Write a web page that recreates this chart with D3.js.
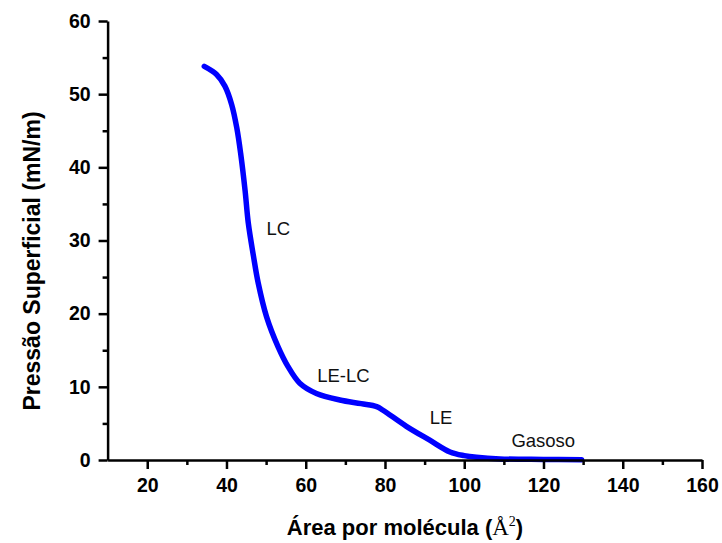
<!DOCTYPE html>
<html>
<head>
<meta charset="utf-8">
<script src="https://cdn.jsdelivr.net/npm/d3@7"></script>
<style>
  body { margin: 0; background: #fff; }
  svg text { font-family: Arial, "Liberation Sans", sans-serif; }
</style>
</head>
<body>
<svg id="chart" width="722" height="543"></svg>
<script>
// isotherm points
const area = [34.4, 37.5, 39.6, 41.3, 42.6, 43.6, 44.7, 45.5, 46.8, 48.0, 50.1, 53.0, 55.5, 58.5, 62.7, 68.6, 74.0, 77.9, 79.5, 85.4, 91.3, 96.4, 100.0, 103.1, 109.0, 120.0, 129.6]
const pressure = [53.8, 52.7, 51.1, 48.6, 45.4, 41.8, 36.8, 32.4, 27.9, 24.2, 19.6, 15.5, 12.8, 10.5, 9.1, 8.2, 7.7, 7.3, 6.8, 4.6, 2.7, 1.1, 0.6, 0.37, 0.15, 0.08, 0.05]

const xTicks = [20, 40, 60, 80, 100, 120, 140, 160]
const xMinor = [30, 50, 70, 90, 110, 130, 150]
const yTicks = [0, 10, 20, 30, 40, 50, 60]
const yMinor = [5, 15, 25, 35, 45, 55]

const phaseLabels = ['LC', 'LE-LC', 'LE', 'Gasoso']
const phaseX = [50.1, 62.9, 91.3, 111.9]
const phaseY = [30.8, 10.7, 4.9, 1.8]

const marginLeft = 107.6, marginRight = 20, marginTop = 21, marginBottom = 83
const width = 722, height = 543

const svg = d3.select('#chart')

const xScale = d3.scaleLinear([10, 160], [marginLeft, width - marginRight])
const yScale = d3.scaleLinear([0, 60], [height - marginBottom, marginTop])

const data = area.map((a, i) => ({x: a, y: pressure[i]}))

// curve
const line = d3.line()
  .x(d => xScale(d.x))
  .y(d => yScale(d.y))
  .curve(d3.curveCatmullRom.alpha(0.5))

svg.append('path')
  .attr('d', line(data))
  .attr('fill', 'none')
  .attr('stroke', '#0000ff')
  .attr('stroke-width', 5.5)
  .attr('stroke-linecap', 'round')
  .attr('stroke-linejoin', 'round')

// x axis
svg.append('g')
  .attr('transform', `translate(0, ${height - marginBottom})`)
  .call(d3.axisBottom(xScale).tickValues(xTicks).tickSize(9).tickPadding(9).tickSizeOuter(0))
svg.append('g')
  .attr('transform', `translate(0, ${height - marginBottom})`)
  .call(d3.axisBottom(xScale).tickValues(xMinor).tickSize(5).tickFormat('').tickSizeOuter(0))
  .select('.domain').remove()

// y axis
svg.append('g')
  .attr('transform', `translate(${marginLeft}, 0)`)
  .call(d3.axisLeft(yScale).tickValues(yTicks).tickSize(9).tickPadding(8).tickSizeOuter(0))
svg.append('g')
  .attr('transform', `translate(${marginLeft}, 0)`)
  .call(d3.axisLeft(yScale).tickValues(yMinor).tickSize(5).tickFormat('').tickSizeOuter(0))
  .select('.domain').remove()

svg.selectAll('.domain, .tick line')
  .attr('stroke', '#000')
  .attr('stroke-width', 2.5)

svg.selectAll('.tick text')
  .attr('font-family', 'Arial, "Liberation Sans", sans-serif')
  .attr('font-size', 19.5)
  .attr('font-weight', 'bold')
  .attr('fill', '#000')

// phase labels
svg.append('g')
  .selectAll('text')
  .data(phaseLabels)
  .join('text')
  .attr('x', (d, i) => xScale(phaseX[i]))
  .attr('y', (d, i) => yScale(phaseY[i]))
  .attr('font-size', 18.5)
  .attr('fill', '#111')
  .text(d => d)

// axis titles
const xTitle = svg.append('text')
  .attr('x', 405)
  .attr('y', 535)
  .attr('text-anchor', 'middle')
  .attr('font-size', 22)
  .attr('font-weight', 'bold')
xTitle.append('tspan').text('Área por molécula (')
xTitle.append('tspan')
  .attr('font-family', '"Liberation Serif", "DejaVu Serif", serif')
  .attr('font-weight', 'normal')
  .attr('font-size', 23)
  .text('Å')
xTitle.append('tspan')
  .attr('font-family', '"Liberation Serif", "DejaVu Serif", serif')
  .attr('font-weight', 'normal')
  .attr('font-size', 14)
  .attr('dy', -9)
  .text('2')
xTitle.append('tspan')
  .attr('dy', 9)
  .text(')')

svg.append('text')
  .attr('transform', 'translate(40, 261) rotate(-90)')
  .attr('text-anchor', 'middle')
  .attr('font-size', 23)
  .attr('font-weight', 'bold')
  .text('Pressão Superficial (mN/m)')
</script>
</body>
</html>
